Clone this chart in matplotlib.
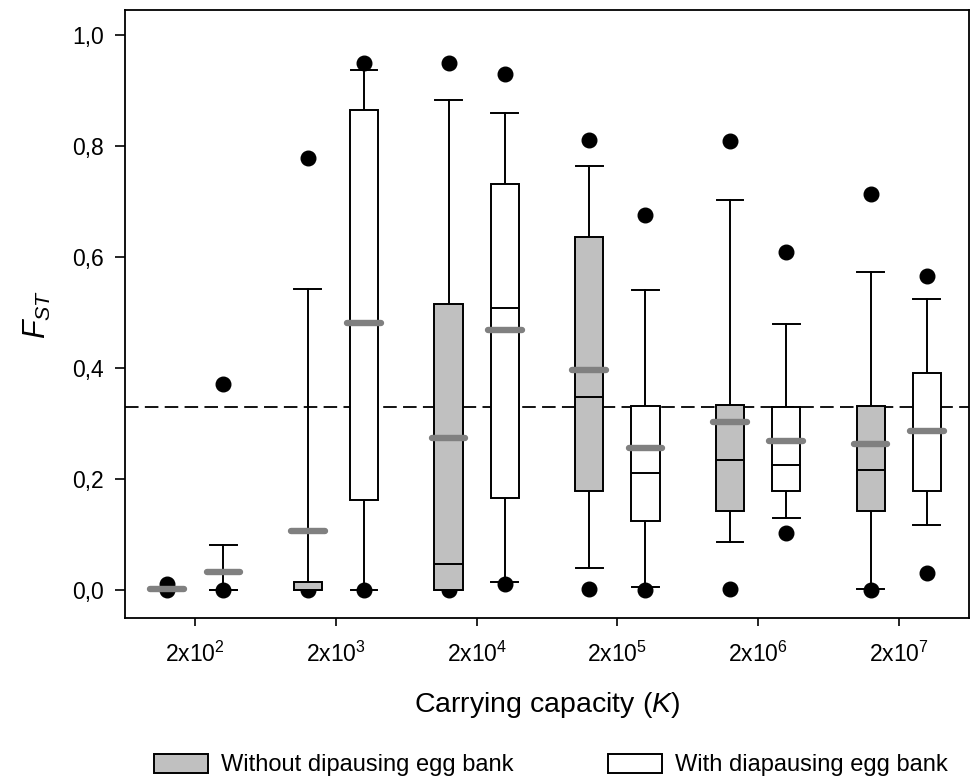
import matplotlib
matplotlib.use('Agg')
import matplotlib.pyplot as plt
from matplotlib.patches import Patch

plt.rcParams['font.family'] = ['Liberation Sans', 'DejaVu Sans']
plt.rcParams['mathtext.fontset'] = 'custom'
plt.rcParams['mathtext.rm'] = 'Liberation Sans'
plt.rcParams['mathtext.it'] = 'Liberation Sans:italic'

######Data######

k_labels = ['2x10$^{\\mathregular{2}}$', '2x10$^{\\mathregular{3}}$', '2x10$^{\\mathregular{4}}$',
            '2x10$^{\\mathregular{5}}$', '2x10$^{\\mathregular{6}}$', '2x10$^{\\mathregular{7}}$']

# without diapausing egg bank (gray boxes)
no_q1 = [0.000, 0.000, 0.000, 0.178, 0.142, 0.142]
no_med = [0.000, 0.000, 0.047, 0.348, 0.235, 0.216]
no_q3 = [0.000, 0.015, 0.515, 0.636, 0.333, 0.332]
no_wlo = [0.000, 0.000, 0.000, 0.040, 0.086, 0.003]
no_whi = [0.000, 0.542, 0.883, 0.764, 0.703, 0.573]
no_mean = [0.002, 0.107, 0.275, 0.396, 0.303, 0.263]
no_out_lo = [0.000, 0.000, 0.000, 0.002, 0.002, 0.000]
no_out_hi = [0.012, 0.779, 0.949, 0.811, 0.810, 0.713]

# with diapausing egg bank (white boxes)
eb_q1 = [0.000, 0.162, 0.166, 0.124, 0.179, 0.178]
eb_med = [0.000, 0.482, 0.509, 0.211, 0.226, 0.286]
eb_q3 = [0.000, 0.865, 0.731, 0.332, 0.330, 0.392]
eb_wlo = [0.000, 0.000, 0.015, 0.006, 0.130, 0.117]
eb_whi = [0.081, 0.938, 0.859, 0.540, 0.479, 0.525]
eb_mean = [0.032, 0.482, 0.468, 0.256, 0.269, 0.286]
eb_out_lo = [0.000, 0.000, 0.011, 0.000, 0.103, 0.031]
eb_out_hi = [0.371, 0.949, 0.930, 0.676, 0.610, 0.566]

threshold = 0.33


def make_stats(q1, med, q3, wlo, whi, mean, lo, hi):
    return [dict(q1=q1[i], med=med[i], q3=q3[i], whislo=wlo[i], whishi=whi[i],
                 mean=mean[i], fliers=[lo[i], hi[i]]) for i in range(len(q1))]


stats_no = make_stats(no_q1, no_med, no_q3, no_wlo, no_whi, no_mean, no_out_lo, no_out_hi)
stats_eb = make_stats(eb_q1, eb_med, eb_q3, eb_wlo, eb_whi, eb_mean, eb_out_lo, eb_out_hi)

######Plot######

fig = plt.figure(figsize=(9.71, 7.8), dpi=100)
ax = fig.add_axes([0.1287, 0.2077, 0.8693, 0.7793])

centers = list(range(len(k_labels)))
off = 0.2
width = 0.2
lw = 1.4

for stats, shift, fc, means in [(stats_no, -off, '#C0C0C0', no_mean),
                                (stats_eb, off, 'white', eb_mean)]:
    pos = [c + shift for c in centers]
    ax.bxp(stats, positions=pos, widths=width, capwidths=0.19, patch_artist=True,
           showmeans=False, showfliers=True,
           boxprops=dict(facecolor=fc, edgecolor='black', linewidth=lw, zorder=4),
           medianprops=dict(color='black', linewidth=lw, zorder=5),
           whiskerprops=dict(color='black', linewidth=lw, zorder=2),
           capprops=dict(color='black', linewidth=lw, zorder=2),
           flierprops=dict(marker='o', markerfacecolor='black', markeredgecolor='black',
                           markersize=10.5, zorder=3))
    # mean shown as thick gray bar
    ax.hlines(means, [p - 0.12 for p in pos], [p + 0.12 for p in pos],
              colors='#808080', linewidth=4.6, capstyle='round', zorder=6)

ax.axhline(threshold, color='black', linewidth=1.3, dashes=(7.5, 3.5), zorder=1)

ax.set_xlim(-0.5, 5.5)
ax.set_ylim(-0.05, 1.045)
ax.set_xticks(centers)
ax.set_xticklabels(k_labels, fontsize=16.5)
yt = [0.0, 0.2, 0.4, 0.6, 0.8, 1.0]
ax.set_yticks(yt)
ax.set_yticklabels([f'{v:.1f}'.replace('.', ',') for v in yt], fontsize=16.5)
ax.tick_params(axis='x', direction='out', length=6, width=1.2, pad=11)
ax.tick_params(axis='y', direction='out', length=7, width=1.2, pad=8)
for s in ax.spines.values():
    s.set_linewidth(1.3)

ax.set_xlabel('Carrying capacity ($K$)', fontsize=20.5, labelpad=17)
ax.set_ylabel('$F_{ST}$', fontsize=22, labelpad=14)

handles = [Patch(facecolor='#C0C0C0', edgecolor='black', linewidth=lw),
           Patch(facecolor='white', edgecolor='black', linewidth=lw)]
fig.legend(handles, ['Without dipausing egg bank', 'With diapausing egg bank'],
           loc='center', bbox_to_anchor=(0.5675, 0.019), ncol=2, frameon=False,
           fontsize=17, handlelength=2.3, handleheight=0.85, handletextpad=0.55,
           columnspacing=4.0)

fig.savefig('out.png', dpi=100)
